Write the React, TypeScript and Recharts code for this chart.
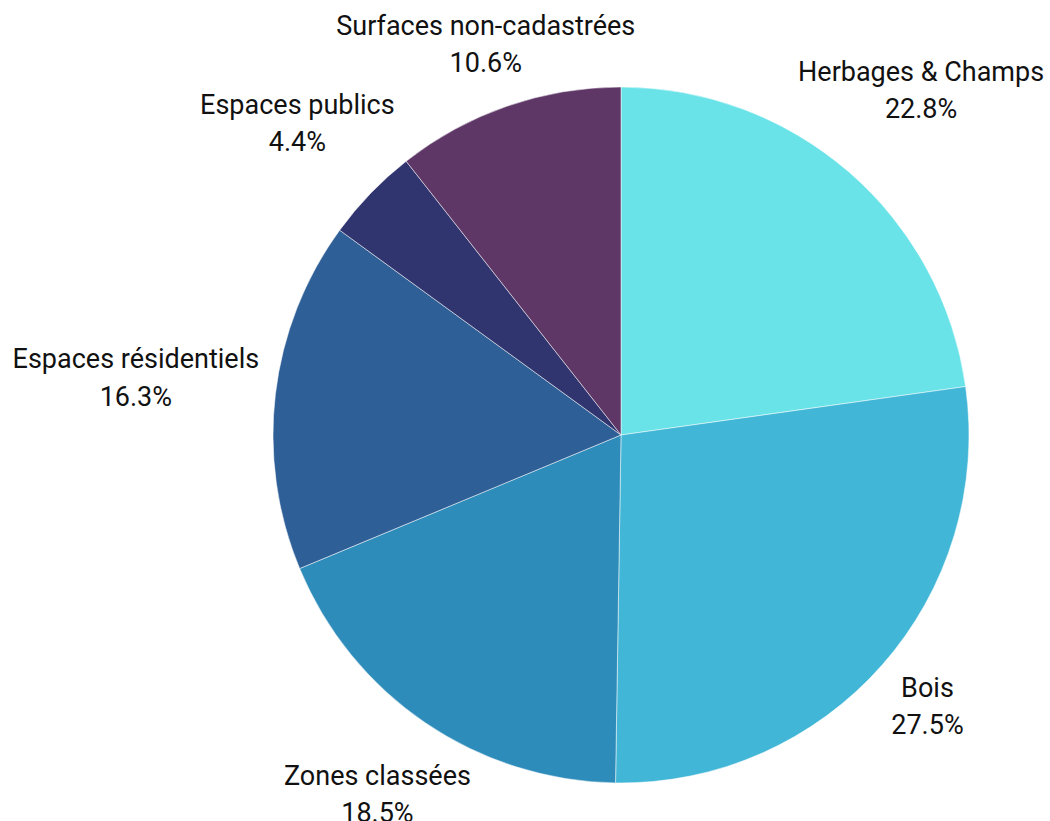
import React from "react";
import { PieChart, Pie, Cell } from "recharts";

const categories = [
  "Herbages & Champs",
  "Bois",
  "Zones classées",
  "Espaces résidentiels",
  "Espaces publics",
  "Surfaces non-cadastrées",
];
const values = [22.8, 27.5, 18.5, 16.3, 4.4, 10.6];
const colors = ["#69E3E8", "#42B6D6", "#2E8CBA", "#2E5F97", "#30356F", "#5E3766"];

const data = categories.map((name, i) => ({ name, value: values[i] }));

const FONT_SIZE = 27;
const LINE_GAP = 37.5;
const CAP = 0.711 * FONT_SIZE;
const LABEL_GAP = 15;
const FONT_FAMILY = "Roboto, 'Noto Sans', sans-serif";

let ctx: CanvasRenderingContext2D | null = null;
function measure(text: string): number {
  try {
    if (!ctx) {
      const c = document.createElement("canvas");
      ctx = c.getContext("2d");
    }
    if (ctx) {
      ctx.font = `${FONT_SIZE}px Roboto`;
      return ctx.measureText(text).width;
    }
  } catch (e) {}
  return text.length * FONT_SIZE * 0.55;
}

const renderLabel = (props: any) => {
  const { cx, cy, midAngle, outerRadius, name, value } = props;
  const RAD = Math.PI / 180;
  const ux = Math.cos(-midAngle * RAD);
  const uy = Math.sin(-midAngle * RAD);
  const pct = `${Number(value).toFixed(1)}%`;
  const hw = Math.max(measure(name), measure(pct)) / 2;
  const hh = (CAP + LINE_GAP) / 2;
  const target = outerRadius + LABEL_GAP;
  const dist = (s: number) => {
    const dx = Math.max(Math.abs(s * ux) - hw, 0);
    const dy = Math.max(Math.abs(s * uy) - hh, 0);
    return Math.sqrt(dx * dx + dy * dy);
  };
  let lo = 0;
  let hi = outerRadius * 3;
  for (let i = 0; i < 60; i++) {
    const mid = (lo + hi) / 2;
    if (dist(mid) < target) lo = mid;
    else hi = mid;
  }
  const bx = cx + lo * ux;
  const by = cy + lo * uy;
  const top = by - hh;
  return (
    <text
      x={bx}
      y={top + CAP}
      textAnchor="middle"
      fill="#111"
      fontSize={FONT_SIZE}
      fontFamily={FONT_FAMILY}
    >
      <tspan x={bx} y={top + CAP}>{name}</tspan>
      <tspan x={bx} y={top + CAP + LINE_GAP}>{pct}</tspan>
    </text>
  );
};

export default function App() {
  return (
    <div style={{ position: "absolute", left: 0, top: 0, width: 1050, height: 821, background: "#fff" }}>
      <PieChart width={1050} height={821} margin={{ top: 0, right: 0, bottom: 0, left: 0 }}>
        <Pie
          data={data}
          dataKey="value"
          nameKey="name"
          cx={621}
          cy={435}
          outerRadius={348}
          startAngle={90}
          endAngle={-270}
          stroke="#ffffff"
          strokeWidth={0.5}
          label={renderLabel}
          labelLine={false}
          isAnimationActive={false}
        >
          {data.map((d, i) => (
            <Cell key={d.name} fill={colors[i]} />
          ))}
        </Pie>
      </PieChart>
    </div>
  );
}
